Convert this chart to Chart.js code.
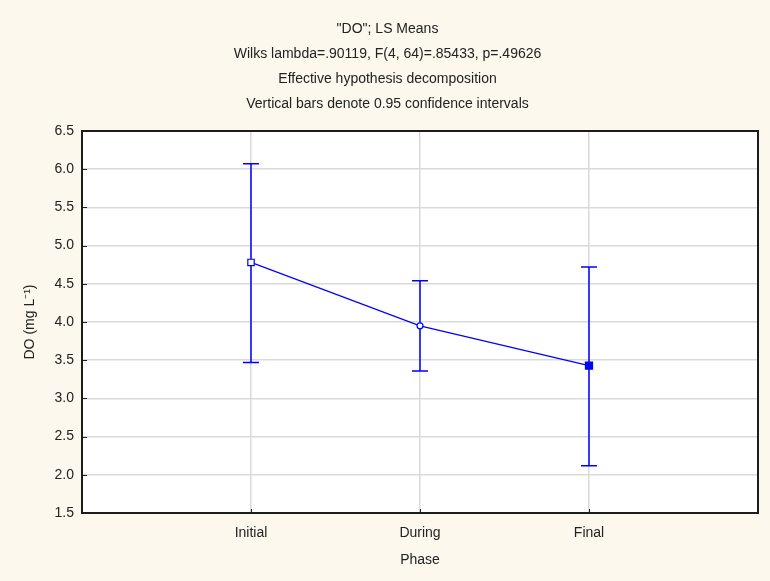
<!DOCTYPE html>
<html>
<head>
<meta charset="utf-8">
<script src="https://cdn.jsdelivr.net/npm/chart.js@4/dist/chart.umd.min.js"></script>
<style>
  html, body { margin: 0; padding: 0; background: #fdf8ee; }
  #wrap { width: 770px; height: 581px; }
</style>
</head>
<body>
<div id="wrap"><canvas id="c" width="770" height="581"></canvas></div>
<script>
// LS means of dissolved oxygen by sampling phase, with 95% confidence limits
const phases = ['Initial', 'During', 'Final'];
const meanDO = [4.78, 3.95, 3.43];
const lowerCI = [3.47, 3.36, 2.12];
const upperCI = [6.07, 4.54, 4.72];

const titleLines = [
  '"DO"; LS Means',
  'Wilks lambda=.90119, F(4, 64)=.85433, p=.49626',
  'Effective hypothesis decomposition',
  'Vertical bars denote 0.95 confidence intervals'
];
const yAxisTitle = 'DO (mg L\u207B\u00B9)';
const xAxisTitle = 'Phase';

const BLUE = '#0000ff';
const TEXT = '#222222';
const FONT = "'Liberation Sans', Arial, sans-serif";

// cream page, white plotting area
const backdrop = {
  id: 'backdrop',
  beforeDraw(chart) {
    const { ctx, chartArea: a } = chart;
    ctx.save();
    ctx.fillStyle = '#fdf8ee';
    ctx.fillRect(0, 0, chart.width, chart.height);
    ctx.fillStyle = '#ffffff';
    ctx.fillRect(a.left, a.top, a.right - a.left, a.bottom - a.top);
    ctx.restore();
  }
};

// vertical confidence-interval whiskers with caps
const errorBars = {
  id: 'errorBars',
  beforeDatasetsDraw(chart) {
    const { ctx, scales: { x, y } } = chart;
    ctx.save();
    ctx.strokeStyle = BLUE;
    ctx.lineWidth = 1.5;
    phases.forEach((p, i) => {
      const px = x.getPixelForValue(i + 1);
      const top = y.getPixelForValue(upperCI[i]);
      const bot = y.getPixelForValue(lowerCI[i]);
      ctx.beginPath();
      ctx.moveTo(px, top); ctx.lineTo(px, bot);
      ctx.moveTo(px - 8, top); ctx.lineTo(px + 8, top);
      ctx.moveTo(px - 8, bot); ctx.lineTo(px + 8, bot);
      ctx.stroke();
    });
    ctx.restore();
  }
};

// box frame plus short inward tick marks on the left and bottom axes
const frame = {
  id: 'frame',
  afterDraw(chart) {
    const { ctx, chartArea: a, scales: { x, y } } = chart;
    ctx.save();
    ctx.strokeStyle = '#1c1c1c';
    ctx.lineWidth = 1;
    y.ticks.forEach(t => {
      const py = Math.round(y.getPixelForValue(t.value)) + 0.5;
      ctx.beginPath(); ctx.moveTo(a.left, py); ctx.lineTo(a.left + 5, py); ctx.stroke();
    });
    phases.forEach((p, i) => {
      const px = Math.round(x.getPixelForValue(i + 1)) + 0.5;
      ctx.beginPath(); ctx.moveTo(px, a.bottom); ctx.lineTo(px, a.bottom - 4); ctx.stroke();
    });
    ctx.lineWidth = 2;
    ctx.strokeRect(a.left, a.top, a.right - a.left, a.bottom - a.top);
    ctx.restore();
  }
};

new Chart(document.getElementById('c'), {
  type: 'line',
  data: {
    datasets: [{
      data: phases.map((p, i) => ({ x: i + 1, y: meanDO[i] })),
      borderColor: BLUE,
      borderWidth: 1.2,
      tension: 0,
      pointStyle: ['rect', 'circle', 'rect'],
      pointRadius: [4.5, 3, 5],
      pointBorderColor: BLUE,
      pointBorderWidth: 1.2,
      pointBackgroundColor: ['#ffffff', '#ffffff', BLUE]
    }]
  },
  options: {
    responsive: false,
    devicePixelRatio: 1,
    animation: false,
    layout: { padding: { left: 16, right: 11, top: 0, bottom: 0 } },
    plugins: {
      legend: { display: false },
      tooltip: { enabled: false },
      title: {
        display: true,
        text: titleLines,
        color: TEXT,
        font: { family: FONT, size: 14, weight: 'normal', lineHeight: '25px' },
        padding: { top: 17, bottom: 14 }
      }
    },
    scales: {
      x: {
        type: 'linear',
        min: 0, max: 4,
        afterFit(s) { s.height = 68; },
        afterBuildTicks(s) { s.ticks = [0, 1, 2, 3, 4].map(v => ({ value: v })); },
        ticks: {
          stepSize: 1,
          autoSkip: false,
          maxRotation: 0,
          padding: 12,
          color: TEXT,
          font: { family: FONT, size: 14 },
          callback: v => phases[v - 1] || ''
        },
        grid: { color: '#d9d9d9', lineWidth: 1.5, drawTicks: false },
        border: { display: false },
        title: {
          display: true,
          text: xAxisTitle,
          color: TEXT,
          font: { family: FONT, size: 14 },
          padding: { top: 4, bottom: 12 }
        }
      },
      y: {
        min: 1.5, max: 6.5,
        afterFit(s) { s.width = 66; },
        ticks: {
          stepSize: 0.5,
          padding: 8,
          color: TEXT,
          font: { family: FONT, size: 14 },
          callback: v => Number(v).toFixed(1)
        },
        grid: { color: '#d9d9d9', lineWidth: 1.5, drawTicks: false },
        border: { display: false },
        title: {
          display: true,
          text: yAxisTitle,
          color: TEXT,
          font: { family: FONT, size: 14 },
          padding: { top: 6, bottom: 0 }
        }
      }
    }
  },
  plugins: [backdrop, errorBars, frame]
});
</script>
</body>
</html>
